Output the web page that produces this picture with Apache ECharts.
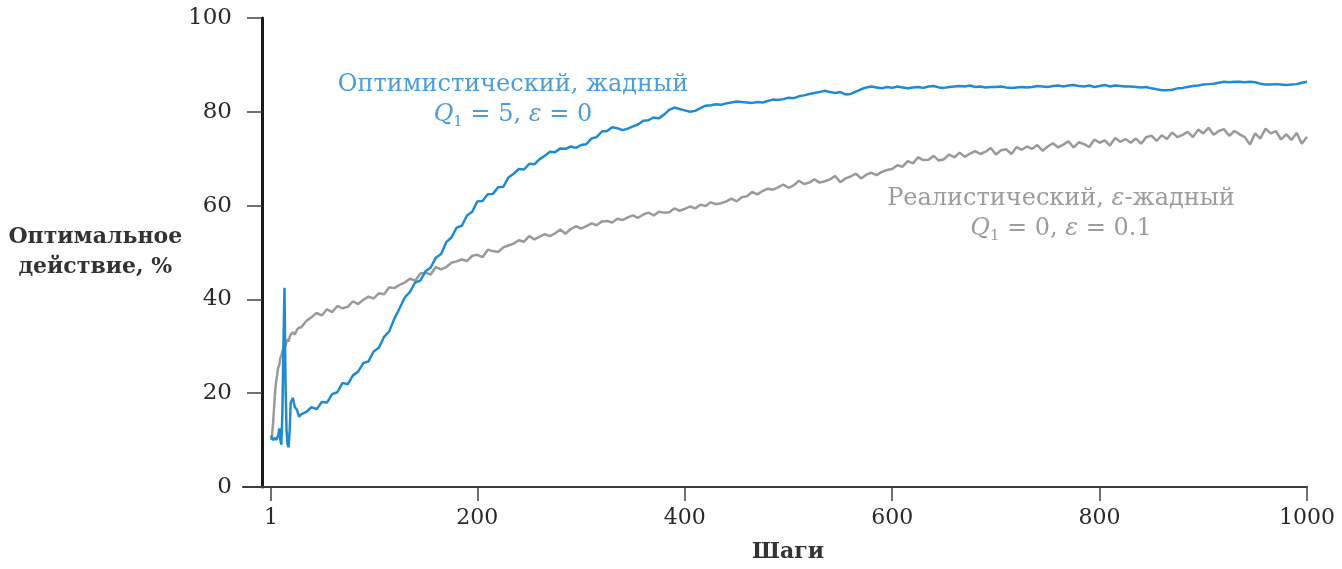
<!DOCTYPE html>
<html>
<head>
<meta charset="utf-8">
<script src="https://cdn.jsdelivr.net/npm/echarts@6/dist/echarts.min.js"></script>
<style>
  html, body { margin: 0; padding: 0; background: #fff; }
  #chart { width: 1342px; height: 569px; }
</style>
</head>
<body>
<div id="chart"></div>
<script>
// шаги (ось X)
const steps = [
  1, 2, 3, 4, 5, 6, 7, 8, 9, 10,
  11, 12, 13, 14, 15, 16, 17, 18, 19, 20,
  22, 24, 26, 28, 30,
  35, 40, 45, 50, 55, 60, 65, 70, 75, 80,
  85, 90, 95, 100, 105, 110, 115, 120, 125, 130,
  135, 140, 145, 150, 155, 160, 165, 170, 175, 180,
  185, 190, 195, 200, 205, 210, 215, 220, 225, 230,
  235, 240, 245, 250, 255, 260, 265, 270, 275, 280,
  285, 290, 295, 300, 305, 310, 315, 320, 325, 330,
  335, 340, 345, 350, 355, 360, 365, 370, 375, 380,
  385, 390, 395, 400, 405, 410, 415, 420, 425, 430,
  435, 440, 445, 450, 455, 460, 465, 470, 475, 480,
  485, 490, 495, 500, 505, 510, 515, 520, 525, 530,
  535, 540, 545, 550, 555, 560, 565, 570, 575, 580,
  585, 590, 595, 600, 605, 610, 615, 620, 625, 630,
  635, 640, 645, 650, 655, 660, 665, 670, 675, 680,
  685, 690, 695, 700, 705, 710, 715, 720, 725, 730,
  735, 740, 745, 750, 755, 760, 765, 770, 775, 780,
  785, 790, 795, 800, 805, 810, 815, 820, 825, 830,
  835, 840, 845, 850, 855, 860, 865, 870, 875, 880,
  885, 890, 895, 900, 905, 910, 915, 920, 925, 930,
  935, 940, 945, 950, 955, 960, 965, 970, 975, 980,
  985, 990, 995, 1000
];

// Реалистический, ε-жадный (серый)
const realistic = [
  10, 11, 13.5, 17, 20.5, 22.5, 24, 25.5, 26, 27.5,
  28, 29, 29.5, 30.5, 30, 31, 31.5, 31, 32, 32.5,
  33, 32.5, 33.5, 34, 34,
  35.4, 36.2, 37.1, 36.6, 37.9, 37.3, 38.6, 38.1, 38.4, 39.6,
  39.0, 39.9, 40.6, 40.2, 41.3, 41.1, 42.6, 42.4, 43.1, 43.6,
  44.4, 44.0, 45.5, 45.7, 45.3, 46.9, 46.4, 46.9, 47.8, 48.1,
  48.5, 48.2, 49.3, 49.5, 49.0, 50.6, 50.3, 50.1, 51.1, 51.5,
  51.9, 52.6, 52.3, 53.5, 52.8, 53.4, 53.9, 53.5, 54.1, 54.9,
  54.0, 55.0, 55.6, 55.1, 55.6, 56.2, 55.8, 56.6, 56.7, 56.4,
  57.2, 56.9, 57.5, 57.9, 57.4, 58.1, 58.5, 57.9, 58.7, 58.5,
  58.6, 59.4, 58.9, 59.3, 59.8, 59.4, 60.2, 59.9, 60.7, 60.3,
  60.5, 60.9, 61.5, 60.9, 61.8, 62.0, 62.9, 62.4, 63.1, 63.6,
  63.4, 63.9, 64.5, 63.8, 64.3, 65.3, 64.6, 64.9, 65.6, 64.9,
  65.2, 65.6, 66.3, 65.0, 65.8, 66.2, 66.8, 65.8, 66.6, 67.0,
  66.5, 67.2, 67.6, 67.8, 68.6, 68.3, 69.5, 69.0, 70.3, 69.7,
  69.8, 70.6, 69.6, 69.9, 70.9, 70.3, 71.3, 70.4, 71.1, 71.6,
  71.0, 71.5, 72.3, 70.9, 71.8, 72.0, 71.0, 72.5, 71.9, 72.6,
  72.1, 72.9, 71.7, 72.6, 73.3, 72.4, 73.0, 73.7, 72.4, 73.5,
  73.1, 72.5, 74.1, 73.4, 73.9, 72.8, 74.4, 73.6, 74.2, 73.4,
  74.3, 73.2, 74.6, 74.9, 73.8, 75.0, 74.2, 75.6, 74.6, 75.1,
  75.7, 74.6, 76.2, 75.4, 76.6, 75.1, 75.9, 76.3, 74.9, 75.9,
  75.2, 74.6, 73.0, 75.4, 74.3, 76.4, 75.4, 75.9, 74.1, 75.2,
  74.0, 75.5, 73.2, 74.7
];

// Оптимистический, жадный (синий)
const optimistic = [
  11, 10.5, 10, 10, 10.5, 10, 10.5, 11, 12.5, 10,
  9, 16, 30, 42.5, 22, 12, 9, 8.5, 12, 18,
  19, 17, 16.5, 15, 15.5,
  16.0, 17.0, 16.6, 18.1, 18.0, 19.8, 20.2, 22.2, 21.9, 23.8,
  24.6, 26.4, 26.8, 28.9, 29.7, 32.0, 33.2, 35.9, 38.1, 40.4,
  41.6, 43.6, 44.0, 46.0, 46.8, 48.9, 49.7, 52.2, 53.2, 55.3,
  55.7, 57.9, 58.7, 60.9, 61.0, 62.4, 62.5, 63.9, 64.0, 66.0,
  66.8, 67.8, 67.7, 68.9, 68.8, 69.9, 70.6, 71.5, 71.4, 72.2,
  72.1, 72.6, 72.3, 72.9, 73.1, 74.3, 74.6, 75.8, 75.9, 76.7,
  76.5, 76.1, 76.4, 76.9, 77.3, 78.1, 78.2, 78.8, 78.6, 79.4,
  80.4, 80.9, 80.6, 80.3, 80.0, 80.2, 80.8, 81.3, 81.4, 81.6,
  81.5, 81.8, 82.0, 82.2, 82.1, 82.0, 81.9, 82.1, 82.0, 82.3,
  82.6, 82.5, 82.7, 83.0, 82.9, 83.3, 83.5, 83.8, 84.0, 84.2,
  84.5, 84.2, 84.0, 84.2, 83.7, 83.8, 84.3, 84.8, 85.2, 85.4,
  85.2, 85.0, 85.3, 85.1, 85.4, 85.2, 85.0, 85.2, 85.3, 85.1,
  85.4, 85.5, 85.2, 85.1, 85.3, 85.4, 85.5, 85.4, 85.6, 85.3,
  85.4, 85.2, 85.3, 85.3, 85.4, 85.2, 85.1, 85.2, 85.3, 85.2,
  85.3, 85.5, 85.4, 85.3, 85.5, 85.6, 85.4, 85.6, 85.7, 85.5,
  85.4, 85.6, 85.3, 85.5, 85.7, 85.4, 85.6, 85.5, 85.4, 85.4,
  85.3, 85.2, 85.3, 85.0, 84.8, 84.6, 84.6, 84.7, 85.0, 85.1,
  85.3, 85.5, 85.6, 85.8, 85.9, 86.0, 86.2, 86.4, 86.3, 86.4,
  86.4, 86.3, 86.4, 86.3, 86.0, 85.8, 85.8, 85.9, 85.8, 85.7,
  85.8, 85.9, 86.2, 86.4
];

const xTicks = [1, 200, 400, 600, 800, 1000];

const FONT = '"DejaVu Serif", "Liberation Serif", serif';
const BLUE = '#1f8bd2';
const GRAY = '#9a9a9a';

const chart = echarts.init(document.getElementById('chart'));

const richLabel = (color) => ({
  i: { fontStyle: 'italic', fontSize: 24, color: color, fontFamily: FONT, lineHeight: 30 },
  s: { fontSize: 15, color: color, fontFamily: FONT, lineHeight: 30, verticalAlign: 'bottom' }
});

const option = {
  animation: false,
  backgroundColor: '#fff',
  title: [
    {
      text: 'Оптимистический, жадный\n{i|Q}{s|1} = 5, {i|ε} = 0',
      left: 513,
      top: 70,
      textAlign: 'center',
      padding: 0,
      textStyle: {
        fontFamily: FONT, fontSize: 24, fontWeight: 'normal', color: '#4a9ede',
        lineHeight: 30, rich: richLabel('#4a9ede')
      }
    },
    {
      text: 'Реалистический, {i|ε}-жадный\n{i|Q}{s|1} = 0, {i|ε} = 0.1',
      left: 1061,
      top: 184,
      textAlign: 'center',
      padding: 0,
      textStyle: {
        fontFamily: FONT, fontSize: 24, fontWeight: 'normal', color: '#9c9c9c',
        lineHeight: 30, rich: richLabel('#9c9c9c')
      }
    }
  ],
  grid: { left: 243, right: 35, top: 18, bottom: 82, containLabel: false, outerBoundsMode: 'none' },
  xAxis: {
    type: 'value',
    min: -26,
    max: 1000,
    name: 'Шаги',
    nameLocation: 'middle',
    nameGap: 54,
    nameTextStyle: { fontFamily: FONT, fontSize: 22, fontWeight: 'bold', color: '#333', padding: [0, 0, 0, 26] },
    axisLine: { onZero: false, lineStyle: { color: '#3a3a3a', width: 2 } },
    axisTick: { customValues: xTicks, length: 14, lineStyle: { color: '#444', width: 1.5 } },
    axisLabel: {
      customValues: xTicks, margin: 20, fontFamily: FONT, fontSize: 22, color: '#2a2a2a',
      formatter: (v) => String(v)
    },
    splitLine: { show: false }
  },
  yAxis: {
    type: 'value',
    min: 0,
    max: 100,
    interval: 20,
    offset: -19,
    name: 'Оптимальное\nдействие, %',
    nameLocation: 'middle',
    nameRotate: 0,
    nameGap: 162,
    nameTextStyle: {
      fontFamily: FONT, fontSize: 22, fontWeight: 'bold', color: '#333',
      align: 'center', verticalAlign: 'middle', lineHeight: 30
    },
    axisLine: { show: true, onZero: false, lineStyle: { color: '#1a1a1a', width: 3 } },
    axisTick: { show: true, length: 15, lineStyle: { color: '#444', width: 1.5 } },
    axisLabel: { margin: 30, fontFamily: FONT, fontSize: 23, color: '#2a2a2a' },
    splitLine: { show: false }
  },
  series: [
    {
      name: 'Реалистический',
      type: 'line',
      data: steps.map((s, i) => [s, realistic[i]]),
      showSymbol: false,
      lineStyle: { color: GRAY, width: 2.5 },
      itemStyle: { color: GRAY }
    },
    {
      name: 'Оптимистический',
      type: 'line',
      data: steps.map((s, i) => [s, optimistic[i]]),
      showSymbol: false,
      lineStyle: { color: BLUE, width: 2.5 },
      itemStyle: { color: BLUE }
    }
  ]
};

chart.setOption(option);
</script>
</body>
</html>
